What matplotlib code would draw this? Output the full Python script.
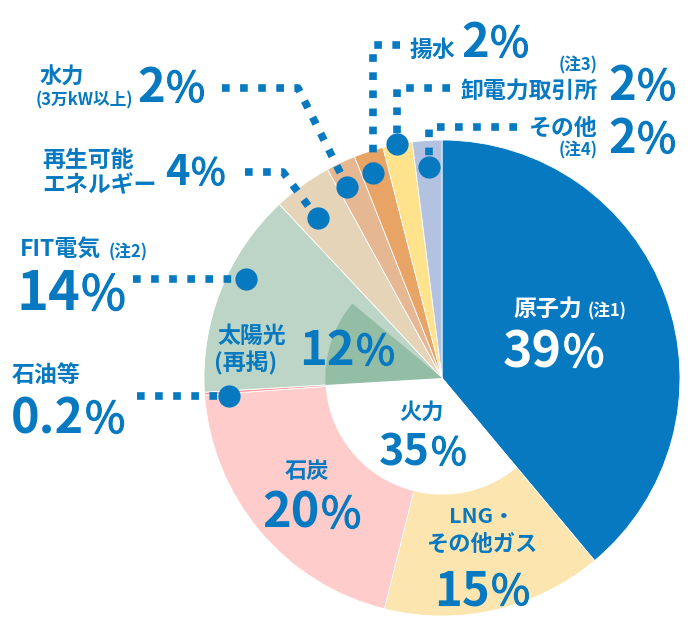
import numpy as np
import matplotlib
matplotlib.use('Agg')
import matplotlib.pyplot as plt
import matplotlib.patheffects as pe

plt.rcParams['font.family'] = ['Noto Sans CJK JP', 'DejaVu Sans']

BLUE = '#0779C1'

# outer ring (clockwise from top)
labels = ['原子力', 'LNG・その他ガス', '石炭', '石油等', 'FIT電気',
          '再生可能エネルギー', '水力', '揚水', '卸電力取引所', 'その他']
shares = [39, 15, 20, 0.2, 14, 4, 2, 2, 2, 2]
colors = ['#0779C1', '#FCE5AF', '#FFCCCC', '#FF9C9C', '#BCD5C7',
          '#E5D4B8', '#E5B792', '#E8A465', '#FFE38C', '#B3C2E0']

# inner ring: 火力 total (white hole) and 太陽光 (再掲) inside FIT
inner_labels = ['原子力', '火力', '太陽光(再掲)', '残り']
inner_shares = [39, 35.2, 12, 14]
inner_colors = ['none', 'white', '#93BDA5', 'none']

cx, cy, R = 442, 378, 238

fig = plt.figure(figsize=(7, 6.41), dpi=100)
ax = fig.add_axes([0, 0, 1, 1])

wedges, _ = ax.pie(shares, colors=colors, radius=R, center=(cx, cy),
                   startangle=270, counterclock=True,
                   wedgeprops=dict(edgecolor='white', linewidth=0.6))
ax.pie(inner_shares, colors=inner_colors, radius=R * 0.49, center=(cx, cy),
       startangle=270, counterclock=True, wedgeprops=dict(linewidth=0))

ax.set_xlim(0, 700)
ax.set_ylim(641, 0)
ax.set_aspect('equal')
ax.axis('off')


def anchor(i, rfrac, dang=0):
    w = wedges[i]
    th = np.deg2rad((w.theta1 + w.theta2) / 2 + dang)
    return cx + R * rfrac * np.cos(th), cy + R * rfrac * np.sin(th)


def leader(points):
    xs, ys = zip(*points)
    ax.plot(xs, ys, color=BLUE, lw=5.5, linestyle=(0, (1, 1.37)),
            dash_capstyle='butt')
    ax.plot(xs[-1], ys[-1], 'o', ms=16, color=BLUE, mec='none')


def pct(x, y, num, size, color=BLUE):
    ax.text(x, y, num, fontsize=size, fontweight='bold', ha='right',
            va='baseline', color=color)
    ax.text(x + 1, y, '%', fontsize=size * 0.9, fontweight='normal',
            ha='left', va='baseline', color=color,
            path_effects=[pe.withStroke(linewidth=0.8, foreground=color)])


def label(x, y, s, size=16.5, ha='left', color=BLUE):
    ax.text(x, y, s, fontsize=size, fontweight='bold', ha=ha,
            va='baseline', color=color)


# leaders
px, py = anchor(9, 0.89)
leader([(517, 127), (px, 127), (px, py)])
px, py = anchor(8, 1.0)
leader([(450, 88), (px, 88), (px, py)])
px, py = anchor(7, 0.91, -0.6)
leader([(400, 45), (px, 45), (px, py)])
px, py = anchor(6, 0.895, -1.2)
leader([(222, 88), (298, 88), (px, py)])
px, py = anchor(5, 0.85, -2)
leader([(245, 172), (283, 172), (px, py)])
px, py = anchor(4, 0.92, 5)
leader([(133, py), (px, py)])
px, py = anchor(3, 0.90, -1)
leader([(137, py), (px, py)])

# right-top labels
label(410, 57, '揚水')
pct(489, 57, '2', 34)
label(598, 70, '(注3)', 12, ha='right')
label(598, 98, '卸電力取引所', ha='right')
pct(636, 100, '2', 34)
label(598, 135, 'その他', ha='right')
label(598, 155, '(注4)', 12, ha='right')
pct(636, 153, '2', 34)

# left labels
label(40, 84, '水力', 16)
label(36, 105, '(3万kW以上)', 12)
pct(165, 102, '2', 34)
label(42, 167, '再生可能')
label(42, 192, 'エネルギー')
pct(190, 185, '4', 30)
label(20, 257, 'FIT電気')
label(109, 257, '(注2)', 12)
pct(80, 310, '14', 39)
label(12, 382, '石油等')
pct(84, 433, '0.2', 35)

# inside labels
label(218, 343, '太陽光')
label(214, 370, '(再掲)')
pct(355, 365, '12', 34)
label(421, 419, '火力', 16, ha='center')
pct(430, 465, '35', 31)
label(307, 478, '石炭', 16, ha='center')
pct(320, 528, '20', 35)
label(482, 523, 'LNG・', 15.5, ha='center')
label(482, 551, 'その他ガス', 16, ha='center')
pct(490, 605, '15', 34)
label(513, 316, '原子力', color='white')
label(588, 316, '(注1)', 12, color='white')
pct(562, 367, '39', 36, color='white')

fig.savefig('out.png', dpi=100)
